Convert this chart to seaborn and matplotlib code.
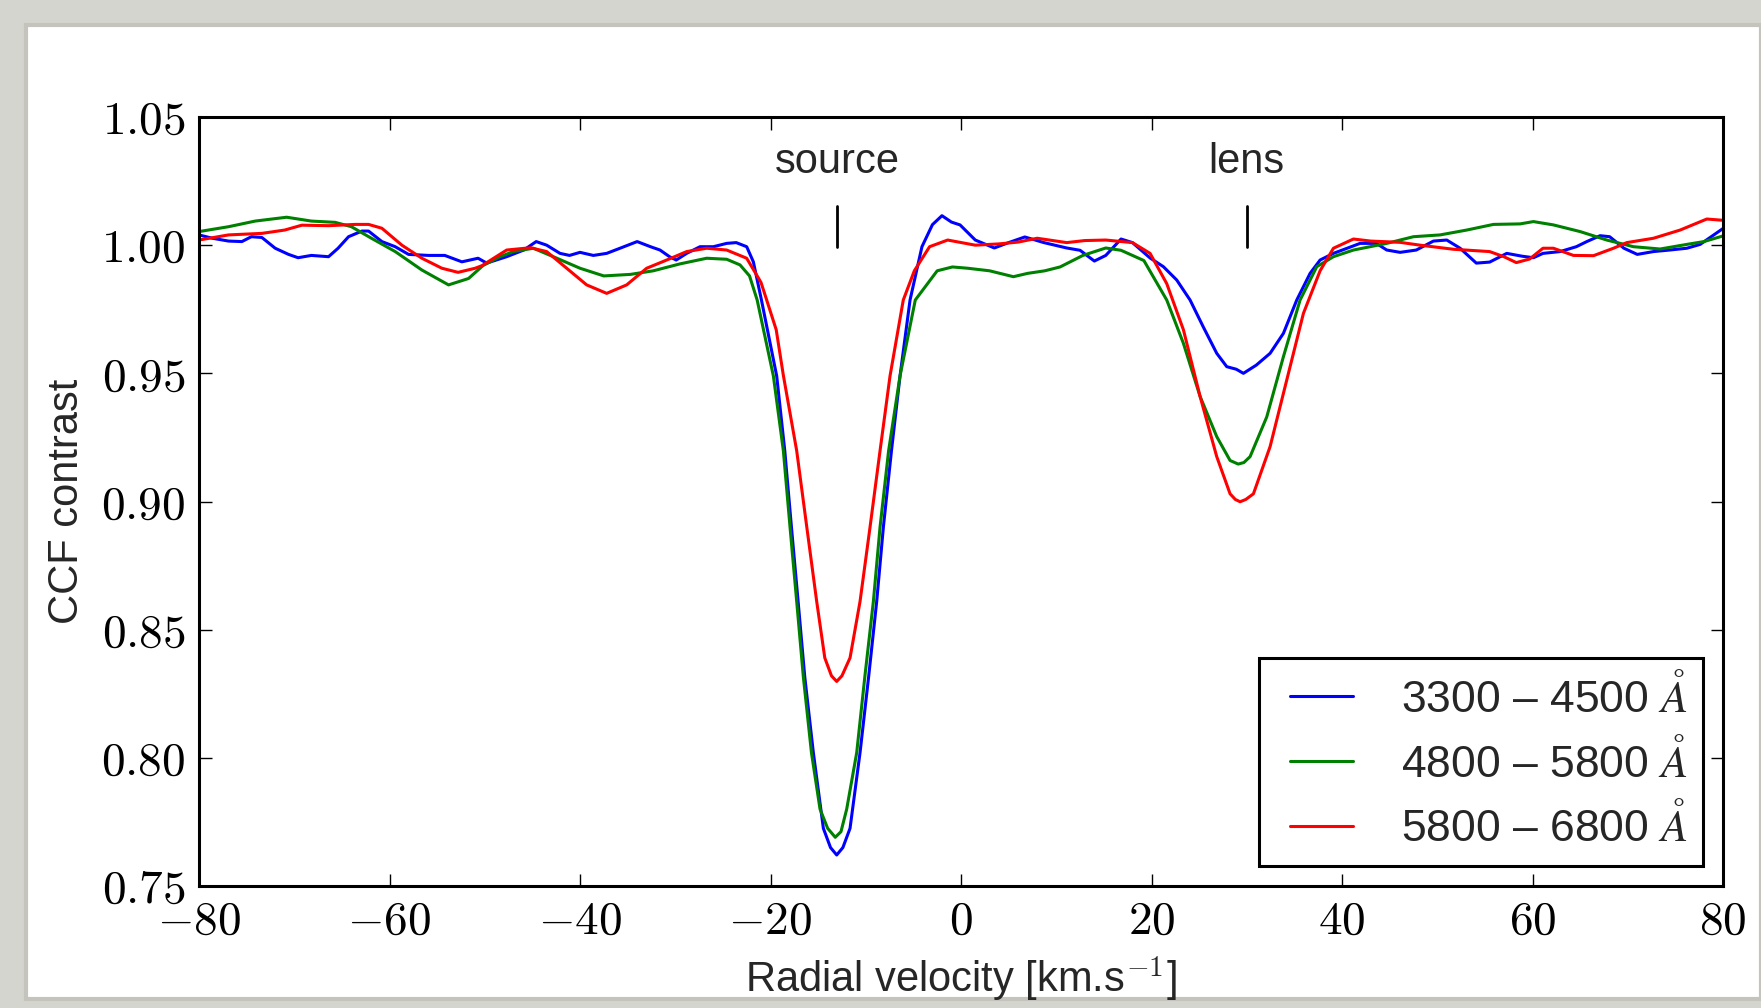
import numpy as np
import pandas as pd
import matplotlib
matplotlib.use("Agg")
import matplotlib.pyplot as plt
from matplotlib.patches import Rectangle
from matplotlib.lines import Line2D
from matplotlib.legend_handler import HandlerLine2D
import seaborn as sns

# ---------------- data ----------------
blue_v = [-80, -78.6, -76.9, -75.5, -74.5, -73.4, -72.0, -70.6, -69.6, -68.2, -66.4, -65.4, -64.3,
          -62.9, -62.2, -60.8, -59.4, -58.0, -55.9, -54.2, -52.4, -50.7, -49.8, -47.7, -45.9, -44.6,
          -43.5, -42.1, -41.1, -40.0, -38.6, -37.2, -35.8, -34.0, -32.6, -31.6, -30.6, -29.9, -28.8,
          -27.4, -26.0, -24.6, -23.6, -22.5, -21.8, -20.95, -19.35, -18.5, -17.8, -17.1, -16.4,
          -15.5, -14.45, -13.7, -13.05, -12.4, -11.65, -10.6, -9.7, -8.85, -8.15, -7.3, -6.4, -5.35,
          -4.1, -3.0, -2.0, -1.0, -0.1, 1.5, 3.5, 5.0, 6.7, 8.7, 11.1, 12.5, 14.0, 15.2, 16.8, 18.0,
          19.85, 21.25, 22.65, 24.05, 25.45, 26.85, 27.9, 28.9, 29.65, 31.0, 32.45, 33.85, 35.25,
          36.65, 37.7, 39.1, 41.9, 43.6, 44.7, 46.1, 47.8, 49.6, 51.0, 52.4, 54.1, 55.5, 57.3, 58.9,
          60.1, 61.1, 62.9, 64.6, 65.7, 67.1, 68.1, 69.6, 71.0, 72.7, 74.4, 76.2, 77.6, 80.0]
blue_c = [1.0040, 1.0027, 1.0016, 1.0014, 1.0033, 1.0030, 0.9988, 0.9964, 0.9951, 0.9960, 0.9955,
          0.9988, 1.0033, 1.0055, 1.0055, 1.0014, 0.9994, 0.9964, 0.9960, 0.9960, 0.9935, 0.9949,
          0.9930, 0.9955, 0.9981, 1.0014, 1.0000, 0.9968, 0.9960, 0.9972, 0.9960, 0.9968, 0.9988,
          1.0014, 0.9994, 0.9981, 0.9955, 0.9942, 0.9968, 0.9994, 0.9994, 1.0007, 1.0010, 0.9994,
          0.9935, 0.9786, 0.9490, 0.9198, 0.8900, 0.8610, 0.8315, 0.8020, 0.7725, 0.7650, 0.7621,
          0.7650, 0.7725, 0.8020, 0.8315, 0.8610, 0.8900, 0.9198, 0.9490, 0.9786, 0.9994, 1.0080,
          1.0115, 1.0090, 1.0079, 1.0020, 0.9989, 1.0010, 1.0032, 1.0010, 0.9989, 0.9980, 0.9938,
          0.9960, 1.0024, 1.0010, 0.9950, 0.9916, 0.9864, 0.9786, 0.9680, 0.9578, 0.9526, 0.9516,
          0.9500, 0.9532, 0.9578, 0.9656, 0.9786, 0.9890, 0.9942, 0.9968, 1.0007, 1.0007, 0.9981,
          0.9972, 0.9981, 1.0016, 1.0020, 0.9988, 0.9930, 0.9934, 0.9968, 0.9957, 0.9951, 0.9968,
          0.9975, 0.9994, 1.0014, 1.0037, 1.0033, 0.9988, 0.9964, 0.9975, 0.9981, 0.9988, 1.0003,
          1.0065]

green_v = [-80, -76.9, -74.1, -70.8, -68.2, -65.7, -64.0, -61.9, -59.4, -56.6, -53.8, -51.7, -50.2,
           -48.4, -47.0, -44.9, -42.8, -40.0, -37.5, -34.7, -32.3, -29.5, -26.7, -24.6, -23.2, -22.2,
           -21.4, -19.7, -18.65, -17.95, -17.25, -16.55, -15.7, -14.8, -14.0, -13.2, -12.6, -12.0,
           -10.95, -10.1, -9.2, -8.5, -7.6, -6.4, -4.8, -2.5, -0.9, 0.7, 3.0, 5.5, 7.0, 8.8, 10.4,
           12.8, 15.2, 16.8, 19.2, 21.6, 23.35, 25.1, 26.85, 28.25, 29.1, 29.7, 30.35, 32.1, 33.85,
           35.6, 37.35, 39.1, 41.2, 44.7, 47.5, 50.3, 53.1, 55.9, 58.7, 60.1, 62.2, 65.0, 67.8, 70.6,
           73.4, 76.2, 78.0, 80.0]
green_c = [1.0053, 1.0072, 1.0094, 1.0109, 1.0094, 1.0089, 1.0072, 1.0027, 0.9975, 0.9903, 0.9845,
           0.9870, 0.9920, 0.9955, 0.9975, 0.9988, 0.9955, 0.9910, 0.9880, 0.9886, 0.9900, 0.9927,
           0.9949, 0.9945, 0.9923, 0.9880, 0.9786, 0.9490, 0.9198, 0.8900, 0.8610, 0.8315, 0.8020,
           0.7800, 0.7725, 0.7690, 0.7712, 0.7800, 0.8020, 0.8315, 0.8610, 0.8900, 0.9198, 0.9490,
           0.9786, 0.9900, 0.9915, 0.9910, 0.9900, 0.9877, 0.9890, 0.9900, 0.9915, 0.9960, 0.9989,
           0.9980, 0.9940, 0.9786, 0.9617, 0.9410, 0.9253, 0.9160, 0.9146, 0.9152, 0.9175, 0.9330,
           0.9565, 0.9786, 0.9916, 0.9955, 0.9981, 1.0007, 1.0033, 1.0040, 1.0059, 1.0081, 1.0083,
           1.0092, 1.0079, 1.0053, 1.0020, 0.9994, 0.9985, 1.0003, 1.0014, 1.0036]

red_v = [-80, -76.9, -73.4, -71.0, -69.2, -66.4, -63.6, -62.2, -60.8, -58.7, -56.6, -54.5, -52.8,
         -51.0, -50.3, -47.7, -45.2, -43.5, -41.4, -39.3, -37.2, -35.1, -33.0, -30.9, -28.8, -26.7,
         -24.6, -22.5, -21.0, -20.4, -19.4, -18.65, -17.25, -16.2, -15.15, -14.3, -13.6, -13.05,
         -12.5, -11.65, -10.6, -9.55, -8.5, -7.45, -6.06, -4.9, -3.3, -1.4, 1.5, 4.0, 6.0, 8.0,
         11.1, 13.0, 15.2, 18.0, 19.85, 21.6, 23.35, 25.1, 26.85, 28.25, 28.8, 29.3, 29.9, 30.7,
         32.45, 34.2, 35.95, 37.7, 39.1, 41.2, 43.0, 46.1, 48.2, 51.7, 55.5, 57.0, 58.3, 59.7, 61.1,
         62.2, 64.3, 66.4, 68.5, 69.9, 72.7, 75.5, 78.3, 80.0]
red_c = [1.0020, 1.0040, 1.0046, 1.0059, 1.0078, 1.0076, 1.0081, 1.0081, 1.0066, 1.0000, 0.9949,
         0.9910, 0.9894, 0.9910, 0.9920, 0.9981, 0.9990, 0.9975, 0.9910, 0.9845, 0.9812, 0.9845,
         0.9910, 0.9942, 0.9975, 0.9988, 0.9981, 0.9949, 0.9855, 0.9786, 0.9670, 0.9492, 0.9198,
         0.8903, 0.8610, 0.8390, 0.8320, 0.8298, 0.8320, 0.8390, 0.8610, 0.8900, 0.9198, 0.9490,
         0.9786, 0.9900, 0.9994, 1.0020, 1.0000, 1.0005, 1.0012, 1.0027, 1.0010, 1.0018, 1.0020,
         1.0010, 0.9968, 0.9850, 0.9670, 0.9410, 0.9175, 0.9030, 0.9008, 0.8999, 0.9008, 0.9030,
         0.9214, 0.9474, 0.9734, 0.9900, 0.9988, 1.0024, 1.0016, 1.0011, 1.0000, 0.9984, 0.9975,
         0.9955, 0.9932, 0.9946, 0.9988, 0.9988, 0.9960, 0.9959, 0.9988, 1.0010, 1.0027, 1.0059,
         1.0102, 1.0097]

series_labels = ["3300 – 4500 $Å$", "4800 – 5800 $Å$", "5800 – 6800 $Å$"]
series_colors = ["#0000ff", "#008000", "#ff0000"]

marker_names = ["source", "lens"]
marker_v = [-13.0, 30.0]

x_ticks = [-80, -60, -40, -20, 0, 20, 40, 60, 80]
y_ticks = [0.75, 0.80, 0.85, 0.90, 0.95, 1.00, 1.05]

# ---------------- style ----------------
sns.set_style("ticks")
plt.rcParams["font.family"] = ["Liberation Sans", "DejaVu Sans"]
plt.rcParams["mathtext.fontset"] = "cm"

df = pd.concat([
    pd.DataFrame({"v": blue_v, "c": blue_c, "band": series_labels[0]}),
    pd.DataFrame({"v": green_v, "c": green_c, "band": series_labels[1]}),
    pd.DataFrame({"v": red_v, "c": red_c, "band": series_labels[2]}),
], ignore_index=True)

fig = plt.figure(figsize=(17.61, 10.08), dpi=100)
fig.patch.set_facecolor("#d5d5cf")
fig.add_artist(Rectangle((26 / 1761, 9 / 1008), 1 - 26 / 1761, 1 - 34 / 1008,
                         transform=fig.transFigure, facecolor="white",
                         edgecolor="#c4c4bd", linewidth=3, zorder=0))

ax = fig.add_axes([199 / 1761, 1 - 886 / 1008, (1723 - 199) / 1761, (886 - 117) / 1008])
ax.set_facecolor("white")

sns.lineplot(data=df, x="v", y="c", hue="band", palette=dict(zip(series_labels, series_colors)),
             hue_order=series_labels, estimator=None, sort=True, linewidth=2.2, ax=ax)

ax.set_xlim(-80, 80)
ax.set_ylim(0.75, 1.05)
ax.set_xticks(x_ticks)
ax.set_xticklabels([f"${t}$" for t in x_ticks])
ax.set_yticks(y_ticks)
ax.set_yticklabels([f"${t:.2f}$" for t in y_ticks])
ax.tick_params(axis="both", which="major", direction="in", length=9, width=1.0,
               top=True, right=True, labelsize=34, pad=10, colors="black")
for sp in ax.spines.values():
    sp.set_visible(True)
    sp.set_linewidth(2.2)
    sp.set_color("black")

ax.set_xlabel(r"Radial velocity [km.s$^{-1}$]", fontsize=30, labelpad=8)
ax.set_ylabel("CCF contrast", fontsize=30, labelpad=10)

for name, v in zip(marker_names, marker_v):
    ax.plot([v, v], [0.9994, 1.0152], color="black", linewidth=2.0)
    ax.text(v, 1.0280, name, ha="center", va="baseline", fontsize=30)

handles, labels = ax.get_legend_handles_labels()
leg = ax.legend(handles, labels, loc="lower right", fontsize=32, frameon=True, fancybox=False,
                edgecolor="black", framealpha=1, handlelength=1.77, handletextpad=1.06,
                borderpad=0.35, labelspacing=0.4, borderaxespad=0.45,
                handler_map={Line2D: HandlerLine2D(xpad=0.35)})
leg.get_frame().set_linewidth(2.2)
for line in leg.get_lines():
    line.set_linewidth(2.2)

fig.savefig("out.png", dpi=100, facecolor=fig.get_facecolor())
